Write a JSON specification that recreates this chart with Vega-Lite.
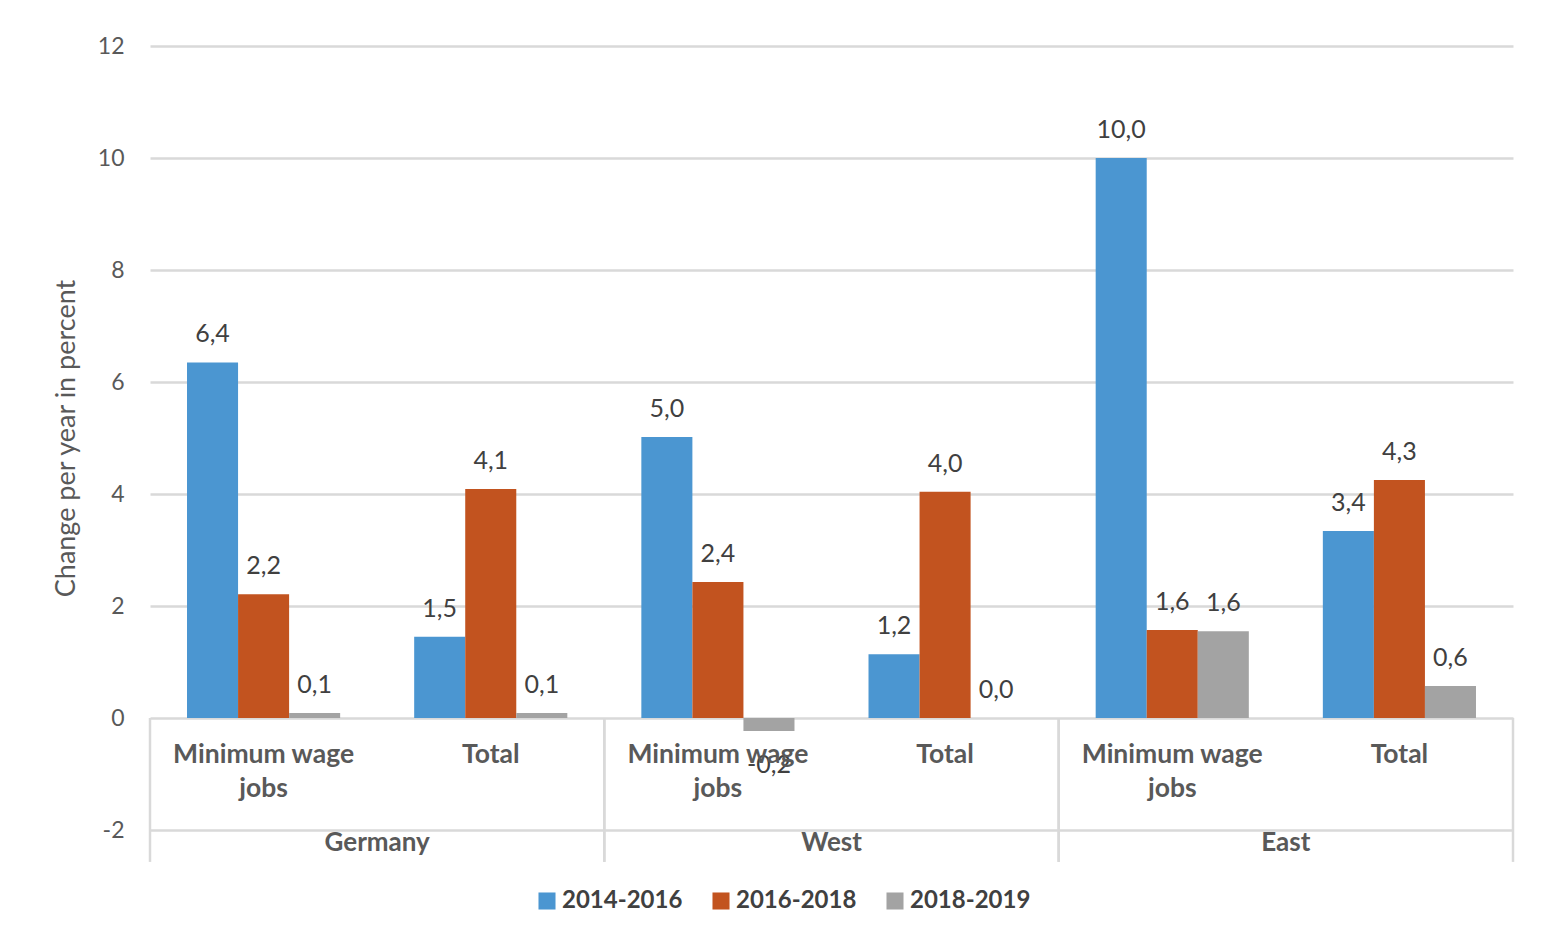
{
  "$schema": "https://vega.github.io/schema/vega-lite/v6.json",
  "width": 1363,
  "height": 784,
  "autosize": {"type": "none"},
  "padding": {"left": 150, "top": 46, "right": 33, "bottom": 115},
  "background": "white",
  "config": {
    "font": "Lato",
    "view": {"stroke": null},
    "axis": {"labelFont": "Lato", "titleFont": "Lato"}
  },
  "datasets": {
    "bars": [
      {"key": "Germany|Minimum wage jobs", "series": "2014-2016", "value": 6.35, "label": "6,4"},
      {"key": "Germany|Minimum wage jobs", "series": "2016-2018", "value": 2.21, "label": "2,2"},
      {"key": "Germany|Minimum wage jobs", "series": "2018-2019", "value": 0.09, "label": "0,1"},
      {"key": "Germany|Total", "series": "2014-2016", "value": 1.45, "label": "1,5"},
      {"key": "Germany|Total", "series": "2016-2018", "value": 4.09, "label": "4,1"},
      {"key": "Germany|Total", "series": "2018-2019", "value": 0.09, "label": "0,1"},
      {"key": "West|Minimum wage jobs", "series": "2014-2016", "value": 5.02, "label": "5,0"},
      {"key": "West|Minimum wage jobs", "series": "2016-2018", "value": 2.43, "label": "2,4"},
      {"key": "West|Minimum wage jobs", "series": "2018-2019", "value": -0.23, "label": "-0,2"},
      {"key": "West|Total", "series": "2014-2016", "value": 1.14, "label": "1,2"},
      {"key": "West|Total", "series": "2016-2018", "value": 4.04, "label": "4,0"},
      {"key": "West|Total", "series": "2018-2019", "value": 0.0, "label": "0,0"},
      {"key": "East|Minimum wage jobs", "series": "2014-2016", "value": 10.0, "label": "10,0"},
      {"key": "East|Minimum wage jobs", "series": "2016-2018", "value": 1.57, "label": "1,6"},
      {"key": "East|Minimum wage jobs", "series": "2018-2019", "value": 1.55, "label": "1,6"},
      {"key": "East|Total", "series": "2014-2016", "value": 3.34, "label": "3,4"},
      {"key": "East|Total", "series": "2016-2018", "value": 4.25, "label": "4,3"},
      {"key": "East|Total", "series": "2018-2019", "value": 0.57, "label": "0,6"}
    ],
    "cats": [
      {"key": "Germany|Minimum wage jobs", "cat": "Minimum wage\njobs"},
      {"key": "Germany|Total", "cat": "Total"},
      {"key": "West|Minimum wage jobs", "cat": "Minimum wage\njobs"},
      {"key": "West|Total", "cat": "Total"},
      {"key": "East|Minimum wage jobs", "cat": "Minimum wage\njobs"},
      {"key": "East|Total", "cat": "Total"}
    ],
    "groups": [
      {"group": "Germany", "first": "Germany|Minimum wage jobs", "last": "Germany|Total"},
      {"group": "West", "first": "West|Minimum wage jobs", "last": "West|Total"},
      {"group": "East", "first": "East|Minimum wage jobs", "last": "East|Total"}
    ]
  },
  "encoding": {
    "x": {
      "field": "key",
      "type": "nominal",
      "scale": {
        "domain": ["Germany|Minimum wage jobs", "Germany|Total", "West|Minimum wage jobs", "West|Total", "East|Minimum wage jobs", "East|Total"],
        "paddingInner": 0,
        "paddingOuter": 0
      },
      "axis": null
    }
  },
  "layer": [
    {
      "data": {"name": "bars"},
      "mark": {"type": "bar"},
      "encoding": {
        "xOffset": {"field": "series", "type": "nominal", "scale": {"paddingInner": 0, "paddingOuter": 0.725}},
        "y": {
          "field": "value",
          "type": "quantitative",
          "scale": {"domain": [-2, 12], "nice": false, "zero": false},
          "axis": {
            "values": [-2, 0, 2, 4, 6, 8, 10, 12],
            "labelExpr": "datum.value + ''",
            "title": "Change per year in percent",
            "titleFontSize": 27,
            "titleFontWeight": "normal",
            "titleColor": "#595959",
            "titlePadding": 17,
            "labelFontSize": 23,
            "labelColor": "#595959",
            "labelPadding": 26,
            "ticks": false,
            "domain": false,
            "grid": true,
            "gridColor": "#d9d9d9",
            "gridWidth": 2.5
          }
        },
        "color": {
          "field": "series",
          "type": "nominal",
          "scale": {"domain": ["2014-2016", "2016-2018", "2018-2019"], "range": ["#4b96d1", "#c2531f", "#a3a3a3"]},
          "legend": {
            "title": null,
            "orient": "none",
            "direction": "horizontal",
            "legendX": 385,
            "legendY": 843,
            "symbolType": "square",
            "symbolSize": 290,
            "symbolStrokeWidth": 0,
            "labelFontSize": 24,
            "labelFontWeight": "bold",
            "labelColor": "#404040",
            "labelOffset": 3,
            "columnPadding": 26
          }
        }
      }
    },
    {
      "data": {"name": "bars"},
      "transform": [{"filter": "datum.value >= 0"}],
      "mark": {"type": "text", "baseline": "alphabetic", "dy": -20, "fontSize": 25, "color": "#404040"},
      "encoding": {
        "xOffset": {"field": "series", "type": "nominal", "scale": {"paddingInner": 0, "paddingOuter": 0.725}},
        "y": {"field": "value", "type": "quantitative"},
        "text": {"field": "label"}
      }
    },
    {
      "data": {"name": "bars"},
      "transform": [{"filter": "datum.value < 0"}],
      "mark": {"type": "text", "baseline": "alphabetic", "dy": 42, "fontSize": 25, "color": "#404040"},
      "encoding": {
        "xOffset": {"field": "series", "type": "nominal", "scale": {"paddingInner": 0, "paddingOuter": 0.725}},
        "y": {"field": "value", "type": "quantitative"},
        "text": {"field": "label"}
      }
    },
    {
      "data": {"name": "cats"},
      "mark": {"type": "text", "baseline": "alphabetic", "lineBreak": "\n", "lineHeight": 34, "fontSize": 26.5, "fontWeight": "bold", "color": "#595959"},
      "encoding": {
        "y": {"datum": -0.8, "type": "quantitative"},
        "text": {"field": "cat"}
      }
    },
    {
      "data": {"name": "groups"},
      "mark": {"type": "text", "baseline": "alphabetic", "fontSize": 26, "fontWeight": "bold", "color": "#595959"},
      "encoding": {
        "x": {"field": "last", "type": "nominal", "bandPosition": 0},
        "y": {"datum": -2.38, "type": "quantitative"},
        "text": {"field": "group"}
      }
    },
    {
      "data": {"name": "groups"},
      "mark": {"type": "rule", "color": "#d9d9d9", "strokeWidth": 2.5},
      "encoding": {
        "x": {"field": "first", "type": "nominal", "bandPosition": 0},
        "y": {"datum": 0, "type": "quantitative"},
        "y2": {"datum": -2.57}
      }
    },
    {
      "data": {"name": "groups"},
      "mark": {"type": "rule", "color": "#d9d9d9", "strokeWidth": 2.5},
      "encoding": {
        "x": {"field": "last", "type": "nominal", "bandPosition": 1},
        "y": {"datum": 0, "type": "quantitative"},
        "y2": {"datum": -2.57}
      }
    }
  ]
}
